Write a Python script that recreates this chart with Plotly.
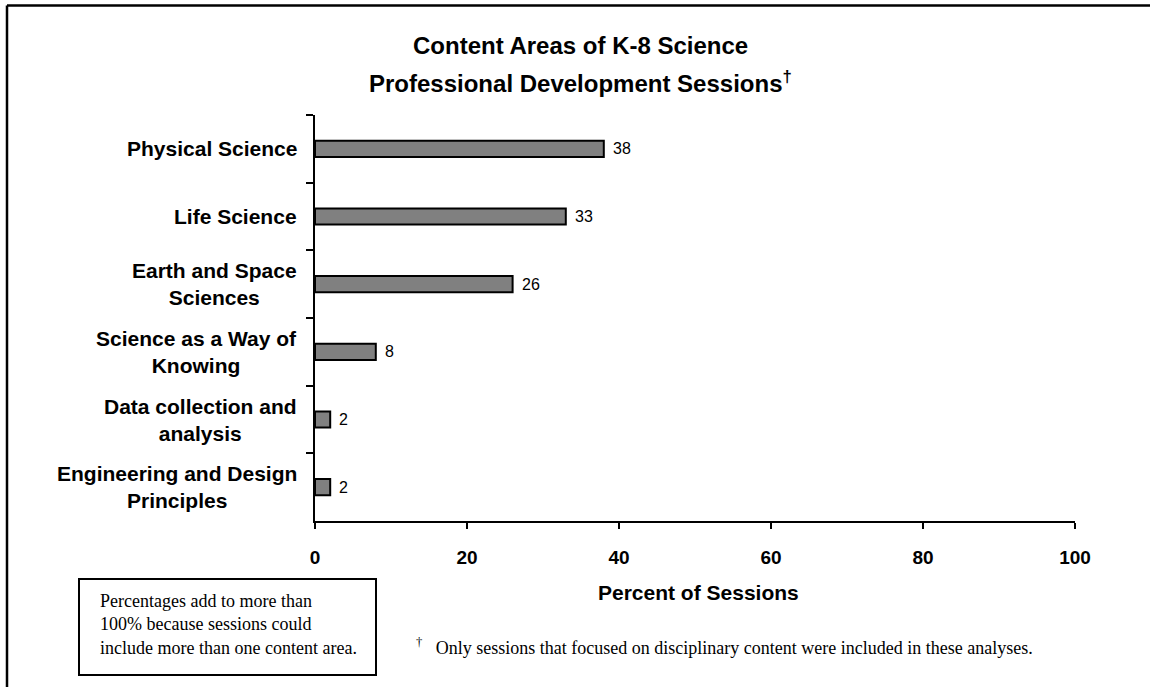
import plotly.graph_objects as go

categories = [
    "Physical Science",
    "Life Science",
    "Earth and Space<br>Sciences",
    "Science as a Way of<br>Knowing",
    "Data collection and<br>analysis",
    "Engineering and Design<br>Principles",
]
values = [38, 33, 26, 8, 2, 2]
x_ticks = [0, 20, 40, 60, 80, 100]

title_lines = ["Content Areas of K-8 Science", "Professional Development Sessions<sup>†</sup>"]
x_title = "Percent of Sessions"
note_text = "Percentages add to more than<br>100% because sessions could<br>include more than one content area."
footnote_text = "Only sessions that focused on disciplinary content were included in these analyses."

W, H = 1150, 687
L, R, T, B = 315, 1075, 115, 521


def px(xp):
    return (xp - L) / (R - L)


def py(yp):
    return (B - yp) / (B - T)


fig = go.Figure()
fig.add_trace(go.Bar(
    y=categories, x=values, orientation="h",
    marker=dict(color="#808080", line=dict(color="black", width=2)),
    width=0.24,
    hoverinfo="skip",
))

# value labels next to bars
for c, v in zip(categories, values):
    fig.add_annotation(
        x=v, xref="x", y=c, yref="y", text=str(v),
        showarrow=False, xanchor="left", yanchor="middle", xshift=7,
        font=dict(family="Arial", size=16, color="black"),
    )

# category labels (centered multi-line, right aligned block)
for c in categories:
    fig.add_annotation(
        x=px(299), xref="paper", y=c, yref="y", text="<b>" + c + "</b>",
        showarrow=False, xanchor="right", yanchor="middle", align="center",
        font=dict(family="Arial", size=21, color="black"),
    )

# title
for text, ycen in zip(title_lines, [45, 82]):
    fig.add_annotation(
        x=px(580), xref="paper", y=py(ycen), yref="paper", text="<b>" + text + "</b>",
        showarrow=False, xanchor="center", yanchor="middle",
        font=dict(family="Arial", size=24, color="black"),
    )

# x axis title
fig.add_annotation(
    x=px(698), xref="paper", y=py(592), yref="paper", text="<b>" + x_title + "</b>",
    showarrow=False, xanchor="center", yanchor="middle",
    font=dict(family="Arial", size=21, color="black"),
)

# note box
fig.add_shape(type="rect", xref="paper", yref="paper",
              x0=px(79), x1=px(376), y0=py(675), y1=py(579),
              line=dict(color="black", width=2), fillcolor="white")
fig.add_annotation(
    x=px(98), xref="paper", y=py(624), yref="paper",
    text=note_text,
    showarrow=False, xanchor="left", yanchor="middle", align="left",
    font=dict(family="Liberation Serif", size=18, color="black"),
)
# footnote
fig.add_annotation(
    x=px(414), xref="paper", y=py(646), yref="paper",
    text="<sup>†</sup>   " + footnote_text,
    showarrow=False, xanchor="left", yanchor="middle", align="left",
    font=dict(family="Liberation Serif", size=18, color="black"),
)
# outer border (top and left edges visible)
fig.add_shape(type="line", xref="paper", yref="paper",
              x0=px(7), x1=px(1152), y0=py(5.5), y1=py(5.5),
              line=dict(color="black", width=2.5))
fig.add_shape(type="line", xref="paper", yref="paper",
              x0=px(7), x1=px(7), y0=py(5.5), y1=py(690),
              line=dict(color="black", width=2.5))

fig.update_layout(
    width=W, height=H,
    margin=dict(l=L, r=W - R, t=T, b=H - B, pad=0),
    paper_bgcolor="white", plot_bgcolor="white",
    showlegend=False,
    xaxis=dict(
        range=[0, 100], tickvals=x_ticks, ticktext=[f"<b>{t}</b>" for t in x_ticks],
        showgrid=False, zeroline=False, showline=True, linecolor="black", linewidth=2,
        ticks="outside", ticklen=6, tickwidth=2, tickcolor="black",
        tickfont=dict(family="Arial", size=19, color="black"),
        ticklabelstandoff=12,
    ),
    yaxis=dict(
        autorange="reversed", showgrid=False, zeroline=False,
        showline=True, linecolor="black", linewidth=2,
        ticks="outside", ticklen=7, tickwidth=2, tickcolor="black",
        tickson="boundaries", showticklabels=False,
    ),
)

fig.write_html("out.html", config={"displayModeBar": False},
               post_script="document.body.style.margin='0';document.body.style.overflow='hidden';")
